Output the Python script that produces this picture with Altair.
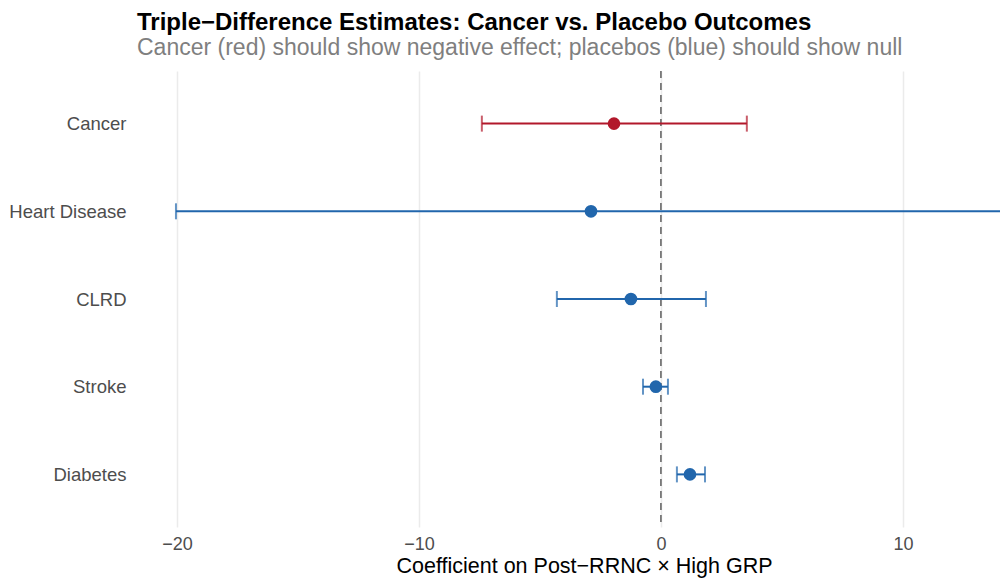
import altair as alt
import pandas as pd

outcomes = ["Cancer", "Heart Disease", "CLRD", "Stroke", "Diabetes"]
estimates = [-1.94, -2.89, -1.24, -0.21, 1.20]
ci_low = [-7.40, -20.04, -4.30, -0.74, 0.66]
ci_high = [3.55, 14.26, 1.86, 0.29, 1.82]
groups = ["Cancer", "Placebo", "Placebo", "Placebo", "Placebo"]

df = pd.DataFrame({"outcome": outcomes, "est": estimates, "lo": ci_low,
                   "hi": ci_high, "group": groups})

FONT = "Liberation Sans"
PX_PER_UNIT = 24.2
PLOT_W = 863
x_left = -21.65
xdom = [x_left, x_left + PLOT_W / PX_PER_UNIT]
xscale = alt.Scale(domain=xdom, nice=False, zero=False)
yscale = alt.Scale(type="point", domain=outcomes, padding=0.6)
color = alt.Color("group:N", scale=alt.Scale(domain=["Cancer", "Placebo"],
                                             range=["#B2182B", "#2166AC"]), legend=None)

xaxis = alt.Axis(values=[-20, -10, 0, 10], title="Coefficient on Post\u2212RRNC \u00d7 High GRP",
                 labelExpr="replace(datum.label, '-', '\u2212')",
                 grid=True, gridColor="#EBEBEB", gridWidth=1.5, domain=False, ticks=False,
                 labelFontSize=18, labelColor="#4D4D4D", labelPadding=8, labelFont=FONT,
                 titleFontSize=21.5, titleFontWeight="normal", titleColor="#000000", titleFont=FONT,
                 titlePadding=2, titleX=447, titleAnchor="start", titleAlign="center")
yaxis = alt.Axis(title=None, grid=False, domain=False, ticks=False, labelFontSize=18.5,
                 labelColor="#4D4D4D", labelPadding=11, labelFont=FONT)

base = alt.Chart(df)

zero = alt.Chart(pd.DataFrame({"z": [0]})).mark_rule(
    color="#666666", strokeDash=[7, 5], strokeWidth=1.6).encode(
    x=alt.X("z:Q", scale=xscale, axis=xaxis))

bars = base.mark_rule(strokeWidth=2).encode(
    x=alt.X("lo:Q", scale=xscale, axis=xaxis), x2="hi:Q",
    y=alt.Y("outcome:N", scale=yscale, sort=outcomes, axis=yaxis), color=color)

cap_lo = base.mark_tick(thickness=2, size=16).encode(
    x=alt.X("lo:Q", scale=xscale), y=alt.Y("outcome:N", scale=yscale, sort=outcomes), color=color)
cap_hi = base.mark_tick(thickness=2, size=16).encode(
    x=alt.X("hi:Q", scale=xscale), y=alt.Y("outcome:N", scale=yscale, sort=outcomes), color=color)

pts = base.mark_circle(size=160, opacity=1).encode(
    x=alt.X("est:Q", scale=xscale), y=alt.Y("outcome:N", scale=yscale, sort=outcomes), color=color)

chart = alt.layer(zero, bars, cap_lo, cap_hi, pts).properties(
    width=PLOT_W, height=456,
    autosize=alt.AutoSizeParams(type="none"),
    padding={"left": 129, "top": 63, "right": 0, "bottom": 55},
    title=alt.Title("Triple\u2212Difference Estimates: Cancer vs. Placebo Outcomes",
                    subtitle="Cancer (red) should show negative effect; placebos (blue) should show null",
                    anchor="start", frame="group", font=FONT, fontSize=24, fontWeight="bold",
                    color="#000000", subtitleFont=FONT, subtitleFontSize=23,
                    subtitleColor="#7F7F7F", subtitlePadding=2, offset=10)
).configure_view(stroke=None)

chart.save("out.html", embed_options={"renderer": "svg", "actions": False})
